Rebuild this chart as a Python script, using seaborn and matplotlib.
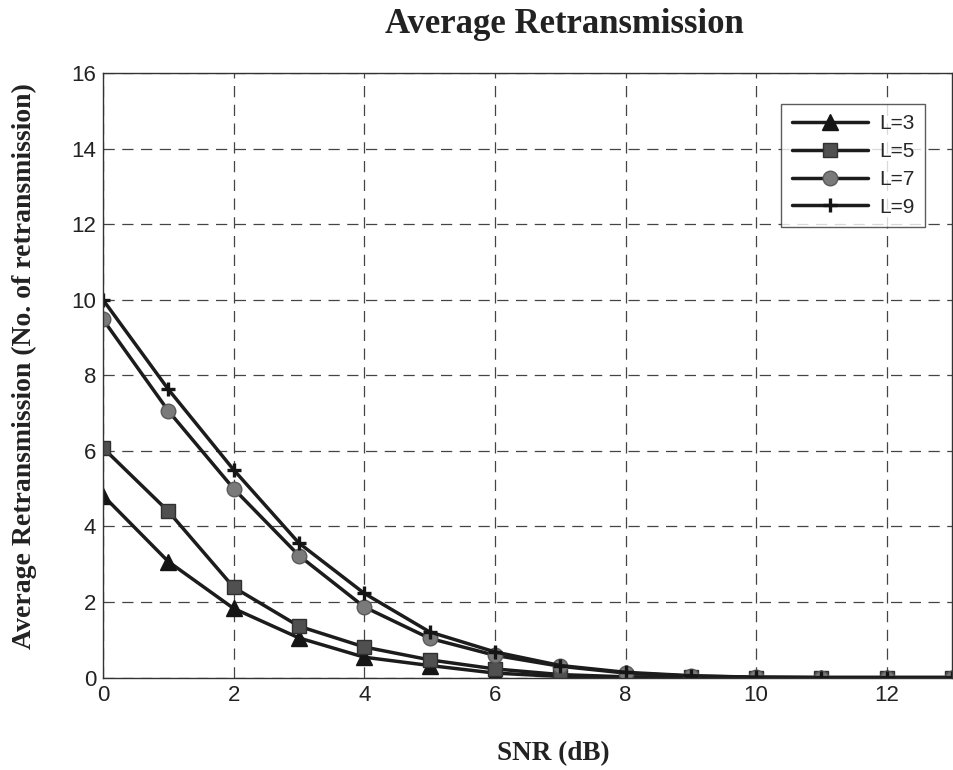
import numpy as np
import pandas as pd
import matplotlib
matplotlib.use("Agg")
import matplotlib.pyplot as plt
import seaborn as sns

# SNR sweep and average retransmission counts per code length
snr_db = [0, 1, 2, 3, 4, 5, 6, 7, 8, 9, 10, 11, 12, 13]
retx_L3 = [4.82, 3.07, 1.83, 1.05, 0.54, 0.32, 0.12, 0.03, 0.01, 0.0, 0.0, 0.0, 0.0, 0.0]
retx_L5 = [6.08, 4.40, 2.39, 1.36, 0.81, 0.47, 0.23, 0.08, 0.02, 0.01, 0.0, 0.0, 0.0, 0.0]
retx_L7 = [9.48, 7.06, 5.00, 3.23, 1.87, 1.04, 0.59, 0.30, 0.12, 0.04, 0.01, 0.0, 0.0, 0.0]
retx_L9 = [10.0, 7.63, 5.50, 3.56, 2.23, 1.21, 0.68, 0.32, 0.14, 0.05, 0.01, 0.0, 0.0, 0.0]
series_labels = ["L=3", "L=5", "L=7", "L=9"]

x_ticks = [0, 2, 4, 6, 8, 10, 12]
y_ticks = [0, 2, 4, 6, 8, 10, 12, 14, 16]

sns.set_theme(style="white")
plt.rcParams["font.family"] = ["Liberation Sans", "DejaVu Sans"]

fig = plt.figure(figsize=(9.54, 7.7), dpi=100)
ax = fig.add_axes([0.108, 0.12, 0.890, 0.785])

styles = [
    dict(marker="^", markersize=12, markerfacecolor="#151515", markeredgecolor="#151515"),
    dict(marker="s", markersize=10.5, markerfacecolor="#505050", markeredgecolor="#303030"),
    dict(marker="o", markersize=10.5, markerfacecolor="#7a7a7a", markeredgecolor="#5a5a5a"),
    dict(marker="+", markersize=10, markerfacecolor="#151515", markeredgecolor="#151515",
         markeredgewidth=2.4),
]

for vals, lab, st in zip([retx_L3, retx_L5, retx_L7, retx_L9], series_labels, styles):
    df = pd.DataFrame({"snr": snr_db, "retx": vals})
    kw = dict(st)
    kw.setdefault("markeredgewidth", 1.0)
    sns.lineplot(data=df, x="snr", y="retx", ax=ax, color="#1c1c1c", linewidth=2.5,
                 label=lab, **kw)

ax.set_xlim(0, 13)
ax.set_ylim(0, 16)
ax.set_xticks(x_ticks)
ax.set_yticks(y_ticks)
ax.tick_params(axis="both", labelsize=16, colors="#222222", direction="in",
               length=4, pad=5)
ax.grid(True, linestyle=(0, (9, 6)), color="#444444", linewidth=0.9)
for sp in ax.spines.values():
    sp.set_color("#333333")
    sp.set_linewidth(1.0)
ax.set_xlabel("")
ax.set_ylabel("")

leg = ax.legend(loc="upper right", bbox_to_anchor=(0.968, 0.949), fontsize=15,
                handlelength=3.65, numpoints=1, frameon=True, fancybox=False,
                borderpad=0.5, labelspacing=0.42, handletextpad=0.55,
                borderaxespad=0.0)
leg.get_frame().set_edgecolor("#333333")
leg.get_frame().set_linewidth(1.0)

serif = ["Liberation Serif", "DejaVu Serif"]
fig.text(0.592, 1 - 33 / 770, "Average Retransmission", ha="center", va="baseline",
         fontsize=25, fontweight="bold", family=serif, color="#222222")
fig.text(0.5805, 1 - 754 / 770, "SNR (dB)", ha="center", va="center",
         fontsize=19.5, fontweight="bold", family=serif, color="#222222")
fig.text(24 / 954, 1 - 366 / 770, "Average Retransmission (No. of retransmission)",
         ha="center", va="center", rotation=90, fontsize=20, fontweight="bold",
         family=serif, color="#222222")

fig.savefig("out.png", dpi=100, facecolor="white")
